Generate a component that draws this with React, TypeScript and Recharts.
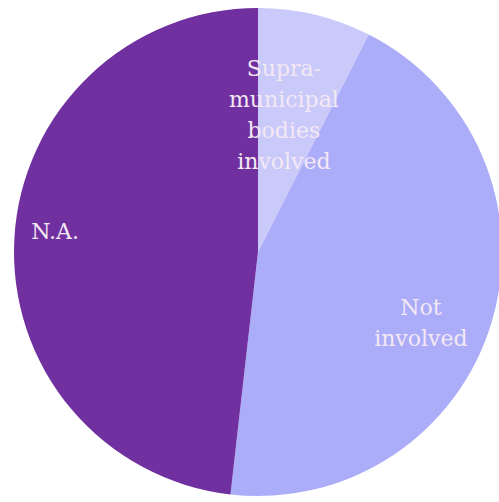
import React from "react";
import { PieChart, Pie, Cell } from "recharts";

const categories = ["Supra-municipal bodies involved", "Not involved", "N.A."];
const shares = [7.5, 44.3, 48.2];
const labelLines = [["Supra-", "municipal", "bodies", "involved"], ["Not", "involved"], ["N.A."]];

const colors = ["#C9C9FA", "#ACADF9", "#7030A0"];

const data = categories.map((name, i) => ({ name, value: shares[i] }));

const RAD = Math.PI / 180;

// Excel "best fit" puts each label at a different distance from the centre
const labelRadius = [0.572, 0.727, 0.836];
const angleShift = [2.8, -6.6, -2.8];

function renderLabel(props: any) {
  const { cx, cy, midAngle, outerRadius, index } = props;
  const r = outerRadius * labelRadius[index];
  const a = midAngle + angleShift[index];
  const x = cx + r * Math.cos(-a * RAD);
  const y = cy + r * Math.sin(-a * RAD);
  const lines = labelLines[index];
  const lh = 31;
  const top = y - ((lines.length - 1) * lh) / 2;
  return (
    <text
      x={x}
      y={top}
      textAnchor="middle"
      dominantBaseline="central"
      fill="#F4E8F4"
      fontFamily="DejaVu Serif"
      fontSize={22}
    >
      {lines.map((l, i) => (
        <tspan key={i} x={x} y={top + i * lh}>
          {l}
        </tspan>
      ))}
    </text>
  );
}

export default function App() {
  return (
    <div style={{ position: "absolute", left: 0, top: 0, background: "#fff" }}>
      <PieChart width={499} height={502} margin={{ top: 0, right: 0, bottom: 0, left: 0 }}>
        <Pie
          data={data}
          dataKey="value"
          nameKey="name"
          cx={258}
          cy={252}
          outerRadius={244}
          startAngle={90}
          endAngle={-270}
          stroke="none"
          label={renderLabel}
          labelLine={false}
          isAnimationActive={false}
        >
          {data.map((d, i) => (
            <Cell key={d.name} fill={colors[i]} />
          ))}
        </Pie>
      </PieChart>
    </div>
  );
}
